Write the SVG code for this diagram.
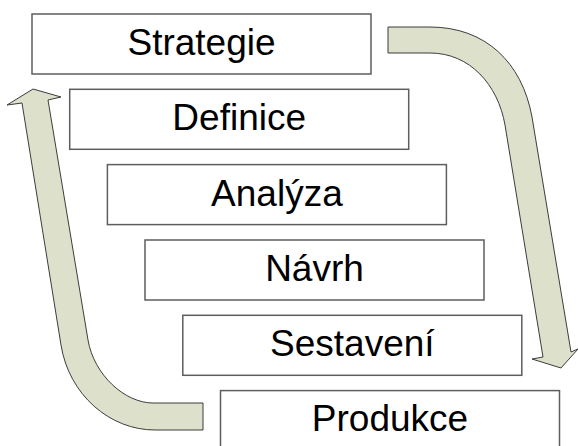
<svg xmlns="http://www.w3.org/2000/svg" width="578" height="446" viewBox="0 0 578 446">
<style>
.box{fill:#ffffff;stroke:#5e5e5e;stroke-width:1.5}
.lbl{font-family:"Liberation Sans",Arial,sans-serif;font-size:37px;fill:#000;text-anchor:middle}
.arr{fill:#dde0cb;stroke:#3c3c3c;stroke-width:1}
</style>
<rect width="578" height="446" fill="#ffffff"/>
<g id="connectors">
<path class="arr" d="M388,27 L430,27 C485,27 522,62 532,117 L571,352 L578,349 L561,368 L532,359 L543,357 L505,125 C498,85 470,53 430,53 L388,53 Z"/>
<path class="arr" d="M203,403 L153,403 C125,403 94,375 88,340 L48,100 L61,97 L33,89 L7,105 L22,103 L61,345 C69,395 110,430 155,430 L203,430 Z"/>
</g>
<g id="strategie"><rect class="box" x="32" y="14" width="339" height="60"/><text class="lbl" x="201.5" y="55">Strategie</text></g>
<g id="definice"><rect class="box" x="69.7" y="89.3" width="339" height="60"/><text class="lbl" x="239.2" y="130.3">Definice</text></g>
<g id="analyza"><rect class="box" x="107.4" y="164.6" width="339" height="60"/><text class="lbl" x="276.9" y="205.6">Analýza</text></g>
<g id="navrh"><rect class="box" x="145" y="240" width="339" height="60"/><text class="lbl" x="314.5" y="281">Návrh</text></g>
<g id="sestaveni"><rect class="box" x="182.8" y="315.3" width="339" height="60"/><text class="lbl" x="352.3" y="355.5">Sestavení</text></g>
<g id="produkce"><rect class="box" x="220.5" y="390.6" width="339" height="60"/><text class="lbl" x="390" y="430.5">Produkce</text></g>
</svg>
